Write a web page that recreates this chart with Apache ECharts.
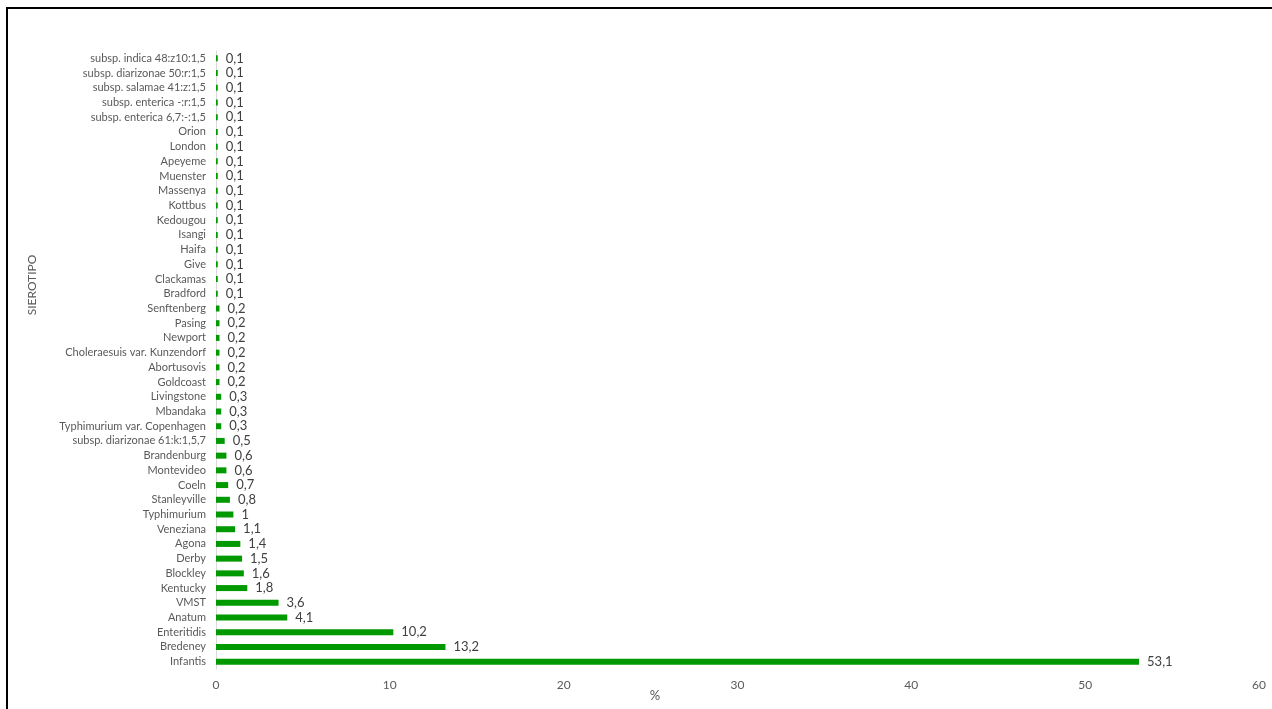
<!DOCTYPE html>
<html>
<head>
<meta charset="utf-8">
<script src="https://cdn.jsdelivr.net/npm/echarts@6/dist/echarts.min.js"></script>
<style>
  html, body { margin: 0; padding: 0; background: #fff; }
  #chart { width: 1272px; height: 709px; }
</style>
</head>
<body>
<div id="chart"></div>
<script>
// Serotypes, listed bottom to top (category axis starts at the bottom)
const serotypes = [
  'Infantis', 'Bredeney', 'Enteritidis', 'Anatum', 'VMST', 'Kentucky', 'Blockley',
  'Derby', 'Agona', 'Veneziana', 'Typhimurium', 'Stanleyville', 'Coeln', 'Montevideo',
  'Brandenburg', 'subsp. diarizonae 61:k:1,5,7', 'Typhimurium var. Copenhagen',
  'Mbandaka', 'Livingstone', 'Goldcoast', 'Abortusovis', 'Choleraesuis var. Kunzendorf',
  'Newport', 'Pasing', 'Senftenberg', 'Bradford', 'Clackamas', 'Give', 'Haifa', 'Isangi',
  'Kedougou', 'Kottbus', 'Massenya', 'Muenster', 'Apeyeme', 'London', 'Orion',
  'subsp. enterica 6,7:-:1,5', 'subsp. enterica -:r:1,5', 'subsp. salamae 41:z:1,5',
  'subsp. diarizonae 50:r:1,5', 'subsp. indica 48:z10:1,5'
];

// Share of isolates (%)
const percentages = [
  53.1, 13.2, 10.2, 4.1, 3.6, 1.8, 1.6,
  1.5, 1.4, 1.1, 1, 0.8, 0.7, 0.6,
  0.6, 0.5, 0.3,
  0.3, 0.3, 0.2, 0.2, 0.2,
  0.2, 0.2, 0.2, 0.1, 0.1, 0.1, 0.1, 0.1,
  0.1, 0.1, 0.1, 0.1, 0.1, 0.1, 0.1,
  0.1, 0.1, 0.1,
  0.1, 0.1
];

const xTicks = { min: 0, max: 60, step: 10 };

const fontFamily = 'Lato, "Open Sans", sans-serif';
const chart = echarts.init(document.getElementById('chart'));

chart.setOption({
  backgroundColor: '#ffffff',
  animation: false,
  grid: {
    left: 216, right: 13, top: 51, bottom: 40,
    containLabel: false,
    outerBoundsMode: 'none'
  },
  xAxis: {
    type: 'value',
    min: xTicks.min,
    max: xTicks.max,
    interval: xTicks.step,
    axisLine: { show: false },
    axisTick: { show: false },
    splitLine: { show: false },
    axisLabel: { color: '#595959', fontSize: 12, fontFamily, margin: 10 }
  },
  yAxis: {
    type: 'category',
    data: serotypes,
    axisLine: { show: true, lineStyle: { color: '#d9d9d9', width: 1 } },
    axisTick: { show: false },
    axisLabel: { color: '#595959', fontSize: 11, fontFamily, margin: 10, interval: 0 }
  },
  series: [{
    type: 'bar',
    data: percentages,
    barWidth: 6,
    itemStyle: { color: '#009900' },
    label: {
      show: true,
      position: 'right',
      distance: 8,
      color: '#404040',
      fontSize: 13,
      fontFamily,
      formatter: p => String(p.value).replace('.', ',')
    }
  }],
  graphic: [
    {
      type: 'rect',
      shape: { x: 7, y: 8, width: 1300, height: 760 },
      style: { fill: 'none', stroke: '#000000', lineWidth: 2 },
      silent: true
    },
    {
      type: 'text',
      x: 32,
      y: 285,
      rotation: Math.PI / 2,
      style: {
        text: 'SIEROTIPO',
        fill: '#595959',
        fontSize: 12,
        fontFamily,
        align: 'center',
        verticalAlign: 'middle'
      }
    },
    {
      type: 'text',
      x: 655,
      y: 696,
      style: {
        text: '%',
        fill: '#595959',
        fontSize: 13,
        fontFamily,
        align: 'center',
        verticalAlign: 'middle'
      }
    }
  ]
});
</script>
</body>
</html>
